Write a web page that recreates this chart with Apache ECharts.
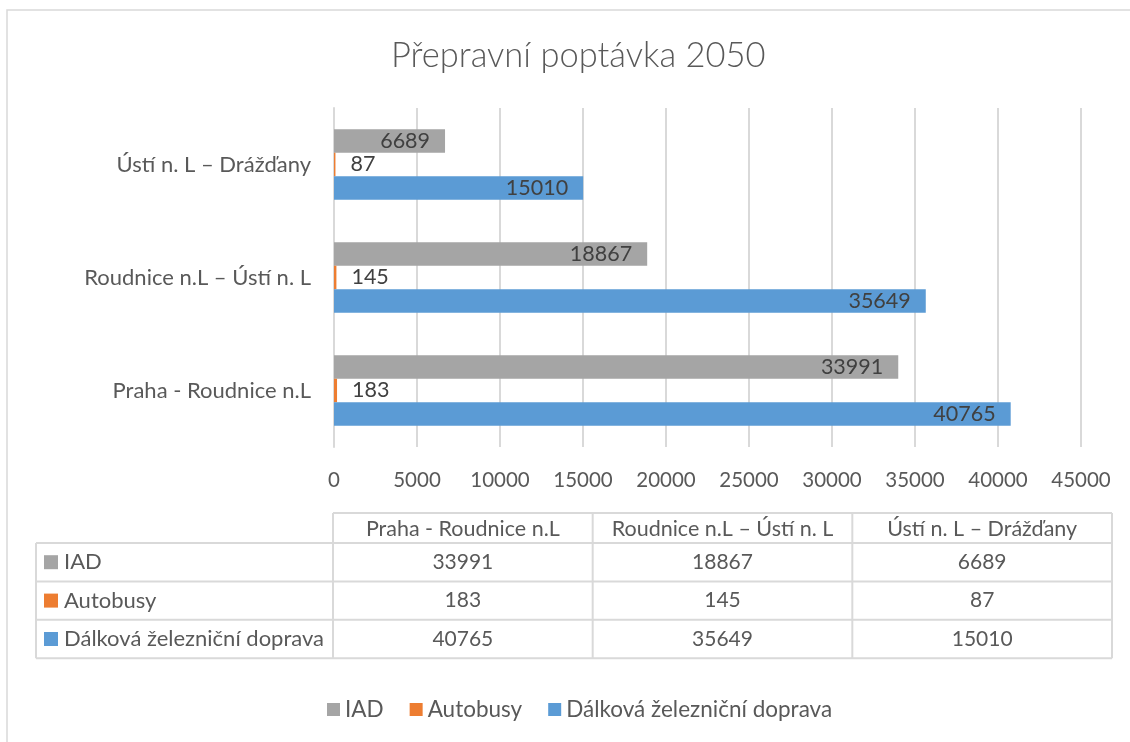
<!DOCTYPE html>
<html>
<head>
<meta charset="utf-8">
<script src="https://cdn.jsdelivr.net/npm/echarts@6/dist/echarts.min.js"></script>
<style>html,body{margin:0;padding:0;background:#fff}#c{width:1130px;height:742px}</style>
</head>
<body>
<div id="c"></div>
<script>
const titleText = 'Přepravní poptávka 2050';
const categories = ['Praha - Roudnice n.L', 'Roudnice n.L – Ústí n. L', 'Ústí n. L – Drážďany'];
const seriesNames = ['IAD', 'Autobusy', 'Dálková železniční doprava'];
const iad = [33991, 18867, 6689];
const autobusy = [183, 145, 87];
const dalkova = [40765, 35649, 15010];
const seriesValues = [iad, autobusy, dalkova];
const colors = ['#A5A5A5', '#ED7D31', '#5B9BD5'];
const axisMin = 0, axisMax = 45000, axisStep = 5000;

const FONT = 'Lato';
const TXT = '#595959';
const DARK = '#404040';
const LINE = '#D9D9D9';

const chart = echarts.init(document.getElementById('c'), null, {renderer: 'canvas'});

// data table built from the arrays
const tbl = {left: 36, colX0: 333, right: 1112, headTop: 513, headH: 30, rowH: 38.4};
const colW = (tbl.right - tbl.colX0) / categories.length;
const graphics = [];
// outer chart border
graphics.push({type: 'rect', shape: {x: 7, y: 10, width: 1140, height: 760}, style: {fill: 'none', stroke: LINE, lineWidth: 1.5}, silent: true});
const rowsTop = tbl.headTop + tbl.headH;
const rowsBottom = rowsTop + tbl.rowH * seriesNames.length;
graphics.push({type: 'line', shape: {x1: tbl.colX0, y1: tbl.headTop, x2: tbl.right, y2: tbl.headTop}, style: {stroke: LINE, lineWidth: 2}});
for (let r = 0; r <= seriesNames.length; r++) {
  const y = rowsTop + r * tbl.rowH;
  graphics.push({type: 'line', shape: {x1: tbl.left, y1: y, x2: tbl.right, y2: y}, style: {stroke: LINE, lineWidth: 2}});
}
graphics.push({type: 'line', shape: {x1: tbl.left, y1: rowsTop, x2: tbl.left, y2: rowsBottom}, style: {stroke: LINE, lineWidth: 2}});
for (let c = 0; c <= categories.length; c++) {
  const x = tbl.colX0 + c * colW;
  graphics.push({type: 'line', shape: {x1: x, y1: tbl.headTop, x2: x, y2: rowsBottom}, style: {stroke: LINE, lineWidth: 2}});
}
categories.forEach((cat, c) => {
  graphics.push({type: 'text', x: tbl.colX0 + (c + 0.5) * colW, y: tbl.headTop + tbl.headH / 2 + 1,
    style: {text: cat, fill: TXT, font: '21.5px ' + FONT, textAlign: 'center', textVerticalAlign: 'middle'}});
});
seriesNames.forEach((name, r) => {
  const cy = rowsTop + (r + 0.5) * tbl.rowH;
  graphics.push({type: 'rect', shape: {x: 44, y: cy - 7, width: 14, height: 14}, style: {fill: colors[r]}});
  graphics.push({type: 'text', x: 64, y: cy, style: {text: name, fill: TXT, font: '22px ' + FONT, textAlign: 'left', textVerticalAlign: 'middle'}});
  seriesValues[r].forEach((v, c) => {
    graphics.push({type: 'text', x: tbl.colX0 + (c + 0.5) * colW, y: cy,
      style: {text: String(v), fill: TXT, font: '21px ' + FONT, textAlign: 'center', textVerticalAlign: 'middle'}});
  });
});

const series = seriesNames.map((name, i) => ({
  name: name,
  type: 'bar',
  data: seriesValues[i],
  barGap: '0%',
  barCategoryGap: '37.6%',
  itemStyle: {color: colors[i]},
  label: {
    show: true,
    position: i === 1 ? 'right' : 'insideRight',
    distance: 15,
    color: DARK,
    fontFamily: FONT,
    fontSize: 21.5
  }
}));

chart.setOption({
  backgroundColor: '#fff',
  animation: false,
  textStyle: {fontFamily: FONT},
  title: {text: titleText, left: 386, top: 33, textStyle: {fontFamily: FONT, fontSize: 34.5, fontWeight: 300, color: TXT}},
  legend: {
    data: seriesNames, bottom: 16, left: 322, icon: 'rect', itemWidth: 13, itemHeight: 13, itemGap: 26,
    textStyle: {fontFamily: FONT, fontSize: 22.5, color: TXT}
  },
  grid: {left: 334, right: 49, top: 108, bottom: 295, containLabel: false},
  xAxis: {
    type: 'value', min: axisMin, max: axisMax, interval: axisStep,
    axisLine: {show: false}, axisTick: {show: false},
    splitLine: {lineStyle: {color: LINE, width: 2}},
    axisLabel: {color: TXT, fontSize: 20.5, fontFamily: FONT, margin: 23, formatter: v => String(v)}
  },
  yAxis: {
    type: 'category', data: categories,
    axisLine: {show: true, lineStyle: {color: LINE, width: 2}}, axisTick: {show: false},
    axisLabel: {color: TXT, fontSize: 22, fontFamily: FONT, margin: 23}
  },
  series: series,
  graphic: graphics
});
</script>
</body>
</html>
